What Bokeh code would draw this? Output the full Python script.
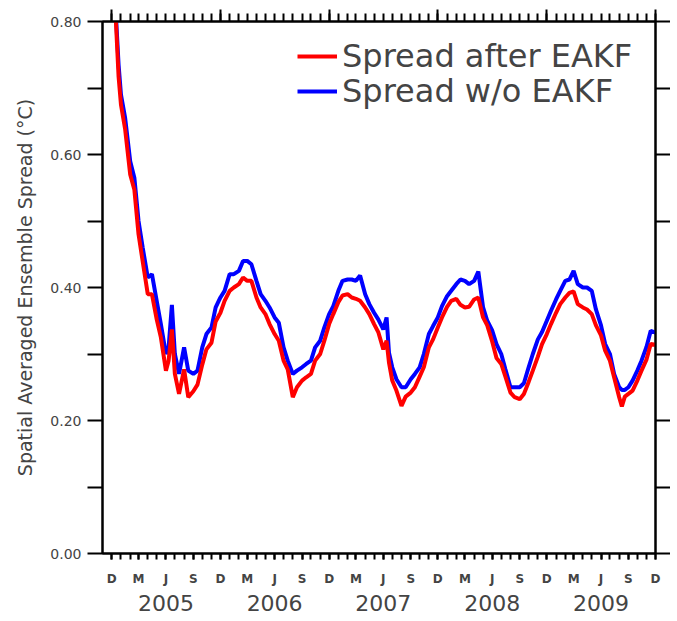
import datetime as dt
from bokeh.plotting import figure
from bokeh.models import (ColumnDataSource, Range1d, FixedTicker, LinearAxis,
                          Legend, LegendItem, CustomJSTickFormatter, NumeralTickFormatter)
from bokeh.embed import file_html
from bokeh.resources import INLINE

# ---- data (dates, spread values in deg C) ----
dates = [
    "2004-12-15", "2004-12-24", "2005-01-01", "2005-01-15", "2005-02-01", "2005-02-15",
    "2005-03-01", "2005-03-15", "2005-04-01", "2005-04-15", "2005-05-01", "2005-05-15",
    "2005-06-01", "2005-06-10", "2005-06-21", "2005-07-01", "2005-07-15", "2005-08-01",
    "2005-08-15", "2005-09-01", "2005-09-15", "2005-10-01", "2005-10-15", "2005-11-01",
    "2005-11-15", "2005-12-01", "2005-12-15",
    "2006-01-01", "2006-01-15", "2006-02-01", "2006-02-15", "2006-03-01", "2006-03-15",
    "2006-04-01", "2006-04-15", "2006-05-01", "2006-05-15", "2006-06-01", "2006-06-15",
    "2006-07-01", "2006-07-15", "2006-08-01", "2006-08-15", "2006-09-01", "2006-09-15",
    "2006-10-01", "2006-10-15", "2006-11-01", "2006-11-15", "2006-12-01", "2006-12-15",
    "2007-01-01", "2007-01-15", "2007-02-01", "2007-02-15", "2007-03-01", "2007-03-15",
    "2007-04-01", "2007-04-15", "2007-05-01", "2007-05-15", "2007-06-01", "2007-06-12",
    "2007-06-20", "2007-07-01", "2007-07-15", "2007-08-01", "2007-08-15", "2007-09-01",
    "2007-09-15", "2007-10-01", "2007-10-15", "2007-11-01", "2007-11-15", "2007-12-01",
    "2007-12-15",
    "2008-01-01", "2008-01-15", "2008-02-01", "2008-02-15", "2008-03-01", "2008-03-15",
    "2008-04-01", "2008-04-15", "2008-05-01", "2008-05-15", "2008-06-01", "2008-06-15",
    "2008-07-01", "2008-07-15", "2008-08-01", "2008-08-15", "2008-09-01", "2008-09-15",
    "2008-10-01", "2008-10-15", "2008-11-01", "2008-11-15", "2008-12-01", "2008-12-15",
    "2009-01-01", "2009-01-15", "2009-02-01", "2009-02-15", "2009-03-01", "2009-03-15",
    "2009-04-01", "2009-04-15", "2009-05-01", "2009-05-15", "2009-06-01", "2009-06-15",
    "2009-07-01", "2009-07-15", "2009-08-01", "2009-08-10", "2009-08-20", "2009-09-01",
    "2009-09-15", "2009-10-01", "2009-10-15", "2009-11-01", "2009-11-15", "2009-12-01",
]

spread_after_eakf = [
    0.800, 0.717, 0.675, 0.638, 0.570, 0.547,
    0.480, 0.439, 0.390, 0.390, 0.352, 0.325,
    0.275, 0.290, 0.337, 0.270, 0.240, 0.277,
    0.235, 0.244, 0.254, 0.284, 0.307, 0.317,
    0.349, 0.362, 0.380,
    0.395, 0.400, 0.405, 0.415, 0.410, 0.410,
    0.385, 0.370, 0.360, 0.345, 0.330, 0.320,
    0.290, 0.277, 0.235, 0.250, 0.260, 0.265,
    0.270, 0.290, 0.300, 0.320, 0.345, 0.360,
    0.378, 0.388, 0.390, 0.385, 0.383, 0.380,
    0.370, 0.360, 0.345, 0.333, 0.307, 0.320,
    0.287, 0.260, 0.245, 0.222, 0.236, 0.242,
    0.250, 0.266, 0.280, 0.310, 0.322, 0.340,
    0.355,
    0.371, 0.380, 0.383, 0.374, 0.370, 0.371,
    0.382, 0.385, 0.355, 0.343, 0.318, 0.294,
    0.285, 0.266, 0.242, 0.235, 0.232, 0.240,
    0.258, 0.275, 0.296, 0.315, 0.330, 0.345,
    0.362, 0.375, 0.385, 0.392, 0.394, 0.375,
    0.370, 0.367, 0.360, 0.343, 0.328, 0.305,
    0.290, 0.265, 0.235, 0.221, 0.236, 0.240,
    0.245, 0.260, 0.275, 0.292, 0.315, 0.314,
]

spread_without_eakf = [
    0.810, 0.735, 0.690, 0.655, 0.590, 0.565,
    0.500, 0.460, 0.415, 0.420, 0.380, 0.345,
    0.300, 0.310, 0.374, 0.300, 0.270, 0.310,
    0.275, 0.270, 0.275, 0.310, 0.330, 0.340,
    0.370, 0.385, 0.395,
    0.420, 0.420, 0.425, 0.440, 0.440, 0.435,
    0.410, 0.390, 0.380, 0.370, 0.355, 0.347,
    0.310, 0.290, 0.270, 0.275, 0.280, 0.285,
    0.290, 0.310, 0.320, 0.340, 0.360, 0.372,
    0.395, 0.410, 0.412, 0.412, 0.410, 0.418,
    0.390, 0.375, 0.362, 0.352, 0.337, 0.355,
    0.302, 0.280, 0.262, 0.250, 0.250, 0.262,
    0.270, 0.280, 0.300, 0.330, 0.342, 0.355,
    0.372,
    0.387, 0.395, 0.405, 0.412, 0.410, 0.405,
    0.410, 0.424, 0.370, 0.350, 0.335, 0.315,
    0.300, 0.277, 0.250, 0.250, 0.250, 0.256,
    0.280, 0.300, 0.322, 0.333, 0.350, 0.365,
    0.382, 0.395, 0.410, 0.412, 0.425, 0.405,
    0.400, 0.400, 0.395, 0.367, 0.343, 0.315,
    0.300, 0.270, 0.250, 0.246, 0.246, 0.250,
    0.260, 0.275, 0.290, 0.311, 0.335, 0.332,
]

series_labels = ["Spread after EAKF", "Spread w/o EAKF"]
series_colors = ["#ff0000", "#0000ff"]
y_ticks = [0.0, 0.2, 0.4, 0.6, 0.8]
y_minor_ticks = [0.1, 0.3, 0.5, 0.7]
quarter_letters = {12: "D", 3: "M", 6: "J", 9: "S"}
year_labels = ["2005", "2006", "2007", "2008", "2009"]

# ---- time axis in days since 2004-12-01 ----
origin = dt.date(2004, 12, 1)


def day(d):
    return (d - origin).days


x_days = [day(dt.date.fromisoformat(s)) for s in dates]

month_days, quarter_overrides, dec_days = [], {}, []
y_, m_ = 2004, 12
while (y_, m_) <= (2009, 12):
    d = day(dt.date(y_, m_, 1))
    month_days.append(d)
    if m_ in quarter_letters:
        quarter_overrides[d] = quarter_letters[m_]
    if m_ == 12:
        dec_days.append(d)
    m_ += 1
    if m_ > 12:
        m_, y_ = 1, y_ + 1
year_ticks = [day(dt.date(int(yl), 6, 1)) for yl in year_labels]
year_overrides = {t: yl for t, yl in zip(year_ticks, year_labels)}

src = ColumnDataSource(dict(x=x_days, after=spread_after_eakf, wo=spread_without_eakf))

p = figure(width=670, height=618, x_range=Range1d(-31, 1826), y_range=Range1d(0, 0.8),
           output_backend="svg", toolbar_location=None,
           x_axis_location=None, y_axis_location=None,
           min_border_left=102, min_border_right=15, min_border_top=21, min_border_bottom=65)
p.xgrid.visible = False
p.ygrid.visible = False
p.outline_line_color = "black"
p.outline_line_width = 2
p.background_fill_color = "white"
p.border_fill_color = "white"

r_blue = p.line("x", "wo", source=src, line_color=series_colors[1], line_width=4)
r_red = p.line("x", "after", source=src, line_color=series_colors[0], line_width=4)

blank = CustomJSTickFormatter(code="return ''")
FONT = "DejaVu Sans"


def style(ax, tick_out, minor_out):
    ax.axis_line_color = "black"
    ax.axis_line_width = 2
    ax.major_tick_line_color = "black"
    ax.major_tick_line_width = 2
    ax.minor_tick_line_color = "black"
    ax.minor_tick_line_width = 2
    ax.major_tick_in = 0
    ax.minor_tick_in = 0
    ax.major_tick_out = tick_out
    ax.minor_tick_out = minor_out
    ax.major_label_text_font = FONT


# left axis
yl = LinearAxis(ticker=FixedTicker(ticks=y_ticks, minor_ticks=y_minor_ticks),
                formatter=NumeralTickFormatter(format="0.00"),
                axis_label="Spatial Averaged Ensemble Spread (°C)")
style(yl, 15, 15)
yl.major_label_text_font_size = "14px"
yl.major_label_standoff = 6
yl.axis_label_text_font = FONT
yl.axis_label_text_font_size = "19px"
yl.axis_label_text_font_style = "normal"
yl.axis_label_standoff = 11
p.add_layout(yl, "left")

# right axis
yr = LinearAxis(ticker=FixedTicker(ticks=y_ticks, minor_ticks=y_minor_ticks), formatter=blank)
style(yr, 15, 15)
yr.major_label_standoff = 0
p.add_layout(yr, "right")

# top axis
xt = LinearAxis(ticker=FixedTicker(ticks=dec_days, minor_ticks=month_days), formatter=blank)
style(xt, 12, 8)
xt.major_label_standoff = 0
p.add_layout(xt, "above")

# bottom axis: month letters
xb = LinearAxis(ticker=FixedTicker(ticks=list(quarter_overrides.keys()), minor_ticks=month_days),
                major_label_overrides=quarter_overrides)
style(xb, 6, 6)
xb.major_label_text_font_size = "12px"
xb.major_label_text_font_style = "bold"
xb.major_label_standoff = 12
p.add_layout(xb, "below")

# bottom axis: long December ticks drawn at y = 0
xd = LinearAxis(ticker=FixedTicker(ticks=dec_days, minor_ticks=[]), formatter=blank,
                fixed_location=0)
style(xd, 14, 0)
xd.axis_line_color = None
xd.major_label_standoff = 0
p.add_layout(xd, "below")

# bottom axis: years
xy = LinearAxis(ticker=FixedTicker(ticks=year_ticks, minor_ticks=[]),
                major_label_overrides=year_overrides)
xy.axis_line_color = None
xy.major_tick_line_color = None
xy.minor_tick_line_color = None
xy.major_tick_out = 0
xy.major_tick_in = 0
xy.major_label_standoff = 6
xy.major_label_text_font = FONT
xy.major_label_text_font_size = "22px"
p.add_layout(xy, "below")


def make_legend(label, renderer, loc):
    lg = Legend(items=[LegendItem(label=label, renderers=[renderer])], location=loc)
    lg.label_text_font = FONT
    lg.label_text_font_size = "32px"
    lg.glyph_width = 40
    lg.label_standoff = 5
    lg.border_line_color = None
    lg.background_fill_alpha = 0
    lg.margin = 0
    lg.padding = 0
    return lg


p.add_layout(make_legend(series_labels[0], r_red, (195, 478)))
p.add_layout(make_legend(series_labels[1], r_blue, (195, 443)))

open("out.html", "w").write(file_html(p, INLINE))
